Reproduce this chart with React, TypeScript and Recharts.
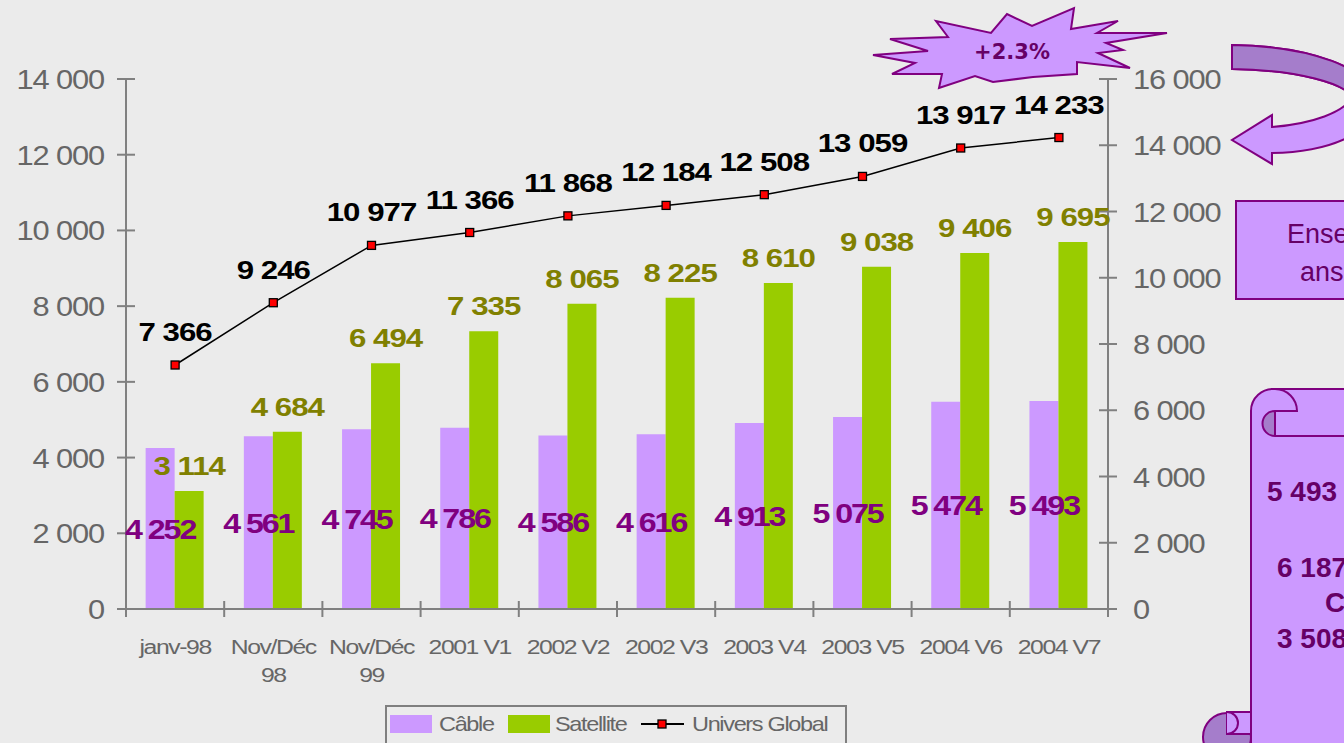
import React from 'react';
import { ComposedChart, Bar, Line, XAxis, YAxis, Legend, LabelList } from 'recharts';

const categories = ['janv-98', 'Nov/Déc\n98', 'Nov/Déc\n99', '2001 V1', '2002 V2', '2002 V3', '2003 V4', '2003 V5', '2004 V6', '2004 V7'];
const cableValues = [4252, 4561, 4745, 4786, 4586, 4616, 4913, 5075, 5474, 5493];
const satelliteValues = [3114, 4684, 6494, 7335, 8065, 8225, 8610, 9038, 9406, 9695];
const universValues = [7366, 9246, 10977, 11366, 11868, 12184, 12508, 13059, 13917, 14233];
const leftTicks = [0, 2000, 4000, 6000, 8000, 10000, 12000, 14000];
const rightTicks = [0, 2000, 4000, 6000, 8000, 10000, 12000, 14000, 16000];
const seriesNames = ['Câble', 'Satellite', 'Univers Global'];
const growthLabel = '+2.3%';
const boxLines = ['Ense', 'ans'];
const scrollLines = ['5 493', '6 187', 'C', '3 508'];

const data = categories.map((c, i) => ({
  cat: c,
  cable: cableValues[i],
  satellite: satelliteValues[i],
  univers: universValues[i],
}));

const PURPLE = '#CC99FF';
const GREEN = '#99CC00';
const DARK_PURPLE = '#A57DCB';
const STROKE_PURPLE = '#800080';
const AXIS = '#808080';
const TICK_TEXT = '#666666';
const FONT = '"Liberation Sans", Arial, sans-serif';

const fmt = (n: number) => String(n).replace(/\B(?=(\d{3})+(?!\d))/g, ' ');

const LeftTick = (props: any) => {
  const { x, y, payload } = props;
  return (
    <g>
      <line x1={x - 9} x2={x + 9} y1={y} y2={y} stroke={AXIS} strokeWidth={2} />
      <text transform={`translate(${x - 22},${y}) scale(1.1,1)`} x={0} y={10} textAnchor="end" fontSize={28} fill={TICK_TEXT} fontFamily={FONT} letterSpacing={-1}>
        {fmt(payload.value)}
      </text>
    </g>
  );
};

const RightTick = (props: any) => {
  const { x, y, payload } = props;
  return (
    <g>
      <line x1={x - 9} x2={x + 9} y1={y} y2={y} stroke={AXIS} strokeWidth={2} />
      <text transform={`translate(${x + 25},${y}) scale(1.1,1)`} x={0} y={10} textAnchor="start" fontSize={28} fill={TICK_TEXT} fontFamily={FONT} letterSpacing={-1}>
        {fmt(payload.value)}
      </text>
    </g>
  );
};

const XTick = (props: any) => {
  const { x, y, payload, index, width, visibleTicksCount } = props;
  const count = visibleTicksCount || categories.length;
  const band = (width || 982) / count;
  const lines = String(payload.value).split('\n');
  return (
    <g>
      <line x1={x - band / 2} x2={x - band / 2} y1={y - 8} y2={y + 8} stroke={AXIS} strokeWidth={2} />
      {index === count - 1 && (
        <line x1={x + band / 2} x2={x + band / 2} y1={y - 8} y2={y + 8} stroke={AXIS} strokeWidth={2} />
      )}
      <text transform={`translate(${x},${y}) scale(1.18,1)`} textAnchor="middle" fontSize={21} fill={TICK_TEXT} fontFamily={FONT} letterSpacing={-1.2}>
        {lines.map((l, i) => (
          <tspan key={i} x={0} y={45 + i * 28}>{l}</tspan>
        ))}
      </text>
    </g>
  );
};

const getBox = (props: any) => {
  const vb = props.viewBox || {};
  return {
    x: props.x ?? vb.x,
    y: props.y ?? vb.y,
    width: props.width ?? vb.width ?? 0,
    height: props.height ?? vb.height ?? 0,
  };
};

const cableLabel = (props: any) => {
  const { x, y, width, height } = getBox(props);
  return (
    <text transform={`translate(${x + width / 2},${y + height / 2}) scale(1.15,1)`} x={0} y={10} textAnchor="middle" fontSize={28} fontWeight="bold" fill="#800080" fontFamily={FONT} letterSpacing={-1.8}>
      {fmt(props.value)}
    </text>
  );
};

const satelliteLabel = (props: any) => {
  const { x, y, width } = getBox(props);
  return (
    <text transform={`translate(${x + width / 2},${y - 25}) scale(1.2,1)`} x={0} y={9} textAnchor="middle" fontSize={26} fontWeight="bold" fill="#808000" fontFamily={FONT} letterSpacing={-0.8}>
      {fmt(props.value)}
    </text>
  );
};

const lineLabel = (props: any) => {
  const { x, y } = getBox(props);
  return (
    <text transform={`translate(${x},${y - 33}) scale(1.2,1)`} x={0} y={9} textAnchor="middle" fontSize={26} fontWeight="bold" fill="#000000" fontFamily={FONT} letterSpacing={-0.8}>
      {fmt(props.value)}
    </text>
  );
};

const SquareDot = (props: any) => {
  const { cx, cy, index } = props;
  if (cx == null || cy == null) return <g key={`d${index}`} />;
  return <rect key={`d${index}`} x={cx - 4} y={cy - 4} width={8} height={8} fill="#FF0000" stroke="#000" strokeWidth={1.3} />;
};

const legendSlots = [
  { swatch: 5, text: 54 },
  { swatch: 123, text: 170 },
  { swatch: 256, text: 307 },
];

const LegendBox = (props: any) => {
  const payload = (props.payload || []) as any[];
  return (
    <svg width={464} height={40} style={{ display: 'block', overflow: 'visible' }}>
      <rect x={1} y={1} width={460} height={50} fill="none" stroke="#7f7f7f" strokeWidth={2} />
      {payload.map((p, i) => {
        const slot = legendSlots[i] || legendSlots[0];
        const isLine = p.type === 'line' || p.value === seriesNames[2];
        return (
          <g key={i}>
            {isLine ? (
              <g>
                <line x1={slot.swatch} x2={slot.swatch + 43} y1={19} y2={19} stroke="#000" strokeWidth={2} />
                <rect x={slot.swatch + 17} y={15} width={8} height={8} fill="#FF0000" stroke="#000" strokeWidth={1.3} />
              </g>
            ) : (
              <rect x={slot.swatch} y={10} width={42} height={18} fill={p.color} />
            )}
            <text transform={`translate(${slot.text},26) scale(1.12,1)`} fontSize={21} fill={TICK_TEXT} fontFamily={FONT} letterSpacing={-1.2}>
              {p.value}
            </text>
          </g>
        );
      })}
    </svg>
  );
};

const Decorations = () => (
  <svg width={1344} height={743} style={{ position: 'absolute', left: 0, top: 0, pointerEvents: 'none' }}>
    {/* starburst */}
    <polygon
      points="890,39 948,37 936,21 991,33 1007,14 1032,26 1074,8 1071,29 1118,21 1097,33 1167,33 1106,43 1123,50 1098,53 1130,68 1077,62 1077,74 1033,77 993,82 975,76 939,88 942,74 892,74 915,63 873,55 928,51"
      fill={PURPLE}
      stroke={STROKE_PURPLE}
      strokeWidth={2}
      strokeLinejoin="miter"
    />
    <text x={1012} y={59} textAnchor="middle" fontSize={21} fontWeight="bold" fill="#660066" fontFamily='"DejaVu Sans", Verdana, sans-serif'>
      {growthLabel}
    </text>
    {/* curved arrow */}
    <path
      d="M1232,45 C1310,46 1372,68 1376,100 C1378,132 1330,152 1272,153 L1272,164 L1232,140 L1272,115 L1272,127 C1312,124 1345,112 1352,97 C1345,84 1300,70 1232,69 Z"
      fill={PURPLE}
      stroke={STROKE_PURPLE}
      strokeWidth={2}
    />
    <path
      d="M1232,45 C1310,46 1372,68 1376,100 L1352,97 C1345,84 1300,70 1232,69 Z"
      fill={DARK_PURPLE}
      stroke={STROKE_PURPLE}
      strokeWidth={2}
    />
    {/* box */}
    <rect x={1236} y={201} width={130} height={98} fill={PURPLE} stroke={STROKE_PURPLE} strokeWidth={2} />
    <text x={1287} y={243} fontSize={27} fill="#660066" fontFamily={FONT}>{boxLines[0]}</text>
    <text x={1300} y={281} fontSize={27} fill="#660066" fontFamily={FONT}>{boxLines[1]}</text>
    {/* scroll */}
    <path d="M1251,760 L1251,411 A22,22 0 0 1 1275,389 L1360,389 L1360,760 Z" fill={PURPLE} stroke={STROKE_PURPLE} strokeWidth={2} />
    <path d="M1275,389 A22,22 0 0 1 1297,411 L1275,411" fill="none" stroke={STROKE_PURPLE} strokeWidth={2} />
    <path d="M1275,411 A12.5,12.5 0 0 0 1275,436 L1275,411 Z" fill={DARK_PURPLE} stroke={STROKE_PURPLE} strokeWidth={2} />
    <path d="M1275,436 L1360,436" stroke={STROKE_PURPLE} strokeWidth={2} />
    <circle cx={1227} cy={737} r={24} fill={DARK_PURPLE} stroke={STROKE_PURPLE} strokeWidth={2} />
    <rect x={1227} y={712} width={24} height={22} fill={PURPLE} stroke={STROKE_PURPLE} strokeWidth={2} />
    <path d="M1227,712 A11,11 0 0 1 1227,734" fill={PURPLE} stroke={STROKE_PURPLE} strokeWidth={2} />
    <line x1={1251} x2={1251} y1={700} y2={760} stroke={STROKE_PURPLE} strokeWidth={2} />
    <text x={1267} y={501} fontSize={28} fontWeight="bold" fill="#660066" fontFamily={FONT}>{scrollLines[0]}</text>
    <text x={1277} y={577} fontSize={28} fontWeight="bold" fill="#660066" fontFamily={FONT}>{scrollLines[1]}</text>
    <text x={1325} y={612} fontSize={28} fontWeight="bold" fill="#660066" fontFamily={FONT}>{scrollLines[2]}</text>
    <text x={1277} y={648} fontSize={28} fontWeight="bold" fill="#660066" fontFamily={FONT}>{scrollLines[3]}</text>
  </svg>
);

export default function App() {
  return (
    <div
      style={{
        position: 'fixed',
        left: 0,
        top: 0,
        width: 1344,
        height: 743,
        overflow: 'hidden',
        background: '#EBEBEB',
        fontFamily: FONT,
      }}
    >
      <ComposedChart
        width={1344}
        height={743}
        data={data}
        margin={{ top: 79, right: 0, bottom: 0, left: 0 }}
        barCategoryGap="20%"
        barGap={0}
      >
        <XAxis
          dataKey="cat"
          height={134}
          interval={0}
          tickLine={false}
          tickSize={0}
          tickMargin={0}
          axisLine={{ stroke: AXIS, strokeWidth: 2 }}
          tick={<XTick />}
        />
        <YAxis
          yAxisId="left"
          orientation="left"
          width={126}
          domain={[0, 14000]}
          ticks={leftTicks}
          interval={0}
          tickLine={false}
          tickSize={0}
          tickMargin={0}
          axisLine={{ stroke: AXIS, strokeWidth: 2 }}
          tick={<LeftTick />}
        />
        <YAxis
          yAxisId="right"
          orientation="right"
          width={236}
          domain={[0, 16000]}
          ticks={rightTicks}
          interval={0}
          tickLine={false}
          tickSize={0}
          tickMargin={0}
          axisLine={{ stroke: AXIS, strokeWidth: 2 }}
          tick={<RightTick />}
        />
        <Bar yAxisId="left" dataKey="cable" name={seriesNames[0]} fill={PURPLE} isAnimationActive={false}>
          <LabelList dataKey="cable" content={cableLabel} />
        </Bar>
        <Bar yAxisId="left" dataKey="satellite" name={seriesNames[1]} fill={GREEN} isAnimationActive={false}>
          <LabelList dataKey="satellite" content={satelliteLabel} />
        </Bar>
        <Line
          yAxisId="right"
          type="linear"
          dataKey="univers"
          name={seriesNames[2]}
          stroke="#000000"
          strokeWidth={1.5}
          dot={SquareDot}
          activeDot={false}
          isAnimationActive={false}
        >
          <LabelList dataKey="univers" content={lineLabel} />
        </Line>
        <Legend
          layout="horizontal"
          verticalAlign="middle"
          align="center"
          content={<LegendBox />}
          wrapperStyle={{ position: 'absolute', left: 385, top: 705, width: 464, height: 40, margin: 0, padding: 0 }}
        />
      </ComposedChart>
      <Decorations />
    </div>
  );
}
